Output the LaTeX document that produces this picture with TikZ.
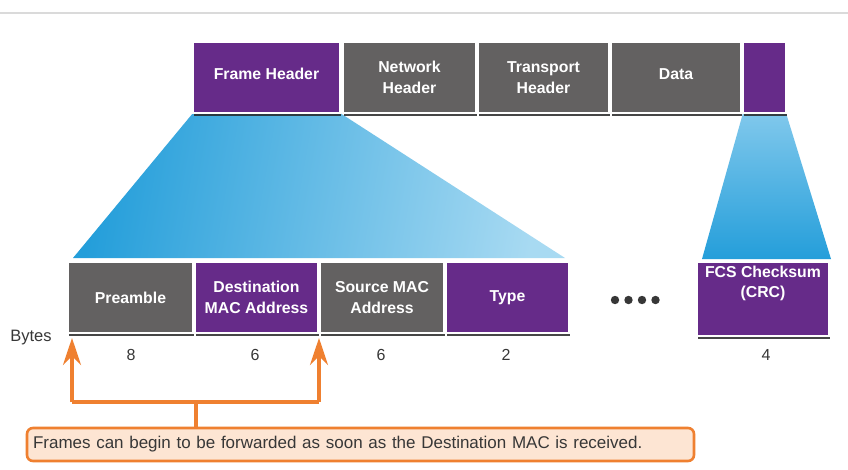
\documentclass[tikz,border=0pt]{standalone}
\usepackage{fontspec}
\setmainfont{Liberation Sans}
\usetikzlibrary{shadows,arrows.meta,calc}
\definecolor{cpurple}{RGB}{102,43,137}
\definecolor{cgray}{RGB}{99,97,97}
\definecolor{corange}{RGB}{239,128,48}
\definecolor{cpeach}{RGB}{253,229,211}
\definecolor{cblueA}{RGB}{36,158,218}
\definecolor{cblueB}{RGB}{168,218,242}
\definecolor{cblueC}{RGB}{128,200,236}
\definecolor{ctext}{RGB}{55,55,55}
\definecolor{cline}{RGB}{218,218,218}
\begin{document}
\begin{tikzpicture}[x=1pt,y=-1pt,
  cell/.style={draw=white, line width=1.6pt, text=white,
    font=\fontsize{15.8}{20.5}\selectfont\bfseries, align=center, inner sep=0pt,
    drop shadow={shadow xshift=0.8pt, shadow yshift=-2.8pt, opacity=0.85, fill=black!85}},
  purp/.style={cell, fill=cpurple},
  grayc/.style={cell, fill=cgray},
  toprow/.style={minimum height=71pt},
  botrow/.style={minimum height=71pt},
  oneline/.style={text depth=7.6pt},
  lbl/.style={text=white, font=\fontsize{15.8}{20.5}\selectfont\bfseries, align=center, inner sep=0pt},
  num/.style={text=ctext, font=\fontsize{16}{18}\selectfont, inner sep=0pt},
  oline/.style={draw=corange, line width=3.6pt},
  oarrow/.style={oline, -{Stealth[length=27pt,width=18pt,inset=9pt]}},
  callout/.style={draw=corange, line width=2.6pt, fill=cpeach, rounded corners=6pt,
    minimum width=667pt, minimum height=33pt, inner xsep=6pt,
    text width=655pt, align=left, text=ctext, font=\fontsize{17}{20}\selectfont}
]
\useasboundingbox (0,0) rectangle (848,469);
\fill[white] (0,0) rectangle (848,469);
\draw[cline, line width=1.2pt] (0,13) -- (848,13);

% trapezoids (behind boxes)
\coordinate (t1bl) at (73,258);
\coordinate (t1br) at (565,258);
\coordinate (t2bl) at (702,259);
\coordinate (t2br) at (831,259);
\shade[left color=cblueA, right color=cblueB, shading angle=80]
  (193,113) -- (340,113) -- (t1br) -- (t1bl) -- cycle;
\shade[top color=cblueC, bottom color=cblueA]
  (743,113) -- (786,113) -- (t2br) -- (t2bl) -- cycle;

% top row
\node[purp, toprow, oneline, minimum width=147pt] (fh) at (266.5,77.5) {Frame Header};
\node[grayc, toprow, minimum width=133pt] (nh) at (409.5,77.5) {Network\\Header};
\node[grayc, toprow, minimum width=131pt] (th) at (543.5,77.5) {Transport\\Header};
\node[grayc, toprow, oneline, minimum width=130pt] (dt) at (676,77.5) {Data};
\node[purp, toprow, minimum width=43pt] (tr) at (764.5,77.5) {};

% bottom row
\node[grayc, botrow, minimum width=125pt] (pre) at (130.5,297.5) {Preamble};
\node[purp, botrow, minimum width=123pt] (dst) at (256.5,297.5) {Destination\\MAC Address};
\node[grayc, botrow, minimum width=124pt] (src) at (382,297.5) {Source MAC\\Address};
\node[purp, botrow, minimum width=123pt] (typ) at (507.5,297.5) {Type};
\node[purp, minimum width=132pt, minimum height=74pt] (fcs) at (763,299) {};
\node[lbl] (fcst) at (763,283.5) {FCS Checksum\\(CRC)};

% dots
\foreach \x in {615,628.5,642,655.5} \fill[ctext] (\x,300) circle (4.2pt);

% bytes
\node[num, font=\fontsize{16.5}{18}\selectfont] (bytes) at (31,337.5) {Bytes};
\node[num] (b1) at (131,355) {8};
\node[num] (b2) at (255,355) {6};
\node[num] (b3) at (381,355) {6};
\node[num] (b4) at (506,355) {2};
\node[num] (b5) at (766,355) {4};

% callout and arrows
\node[callout] (call) at (360.5,444.5) {Frames can begin to be forwarded as soon as the Destination MAC is received.};
\coordinate (jm) at (196,402);
\coordinate (jl) at (72,402);
\coordinate (jr) at (319,402);
\coordinate (al) at (72,338);
\coordinate (ar) at (319,338);
\draw[oline] (call.north -| jm) -- (jm);
\draw[oline] (jl) -- (jr);
\draw[oarrow] (jl) -- (al);
\draw[oarrow] (jr) -- (ar);
\end{tikzpicture}
\end{document}
